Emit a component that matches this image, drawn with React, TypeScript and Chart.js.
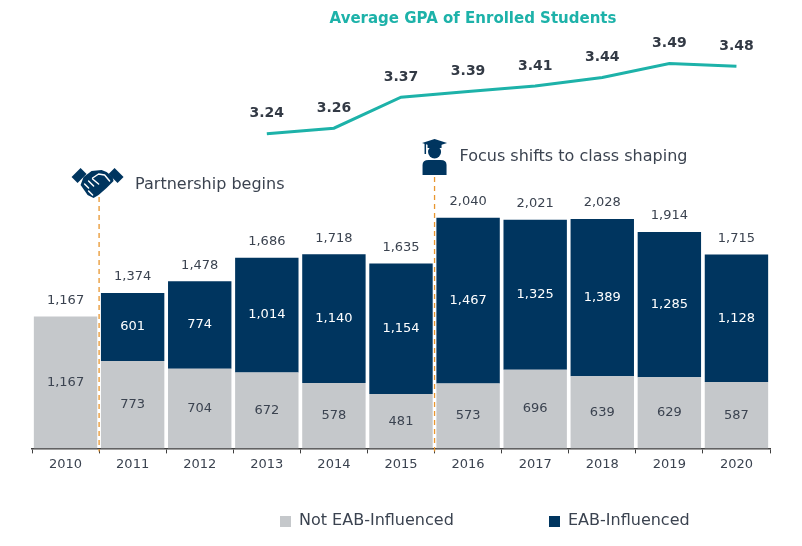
import { useEffect, useRef } from "react"
import { Chart, registerables } from "chart.js"

Chart.register(...registerables)

const years = ["2010", "2011", "2012", "2013", "2014", "2015", "2016", "2017", "2018", "2019", "2020"]
const notInfluenced = [1167, 773, 704, 672, 578, 481, 573, 696, 639, 629, 587]
const influenced = [null, 601, 774, 1014, 1140, 1154, 1467, 1325, 1389, 1285, 1128]
const gpa = [null, null, null, 3.24, 3.26, 3.37, 3.39, 3.41, 3.44, 3.49, 3.48]
const notes = [
  { boundary: 1, text: "Partnership begins", icon: "handshake" },
  { boundary: 6, text: "Focus shifts to class shaping", icon: "grad" },
]

const NAVY = "#00355f"
const GRAY = "#c5c8cb"
const TEAL = "#1db2a9"
const TEXT = "#3b4350"
const ORANGE = "#e8962e"
const FONT = "'DejaVu Sans', Verdana, sans-serif"

const fmt = (v: number) => v.toLocaleString("en-US")

function poly(ctx: CanvasRenderingContext2D, pts: number[][]) {
  ctx.beginPath()
  pts.forEach(([px, py], i) => (i === 0 ? ctx.moveTo(px, py) : ctx.lineTo(px, py)))
  ctx.closePath()
  ctx.fill()
}

function drawHandshake(ctx: CanvasRenderingContext2D, cx: number, y: number) {
  // rough handshake glyph centred on cx, top at y (~50x30)
  ctx.save()
  ctx.translate(cx, y)
  ctx.fillStyle = NAVY
  ctx.lineJoin = "round"
  // cuffs
  poly(ctx, [[-26, 9], [-17, 0], [-11, 6], [-20, 15]])
  poly(ctx, [[26, 9], [17, 0], [11, 6], [20, 15]])
  // hands
  poly(ctx, [
    [-14, 9], [-6, 3], [4, 2], [9, 4], [15, 9],
    [16, 13], [9, 20], [1, 27], [-4, 30], [-10, 27], [-17, 17],
  ])
  ctx.strokeStyle = "#ffffff"
  ctx.lineWidth = 1.5
  ctx.lineCap = "round"
  ctx.beginPath()
  // thumb / wrist gap
  ctx.moveTo(-5, 10)
  ctx.lineTo(1, 6)
  ctx.lineTo(7, 7)
  ctx.lineTo(12, 13)
  // finger gaps
  ctx.moveTo(-13, 16)
  ctx.lineTo(-9, 20)
  ctx.moveTo(-9, 13)
  ctx.lineTo(-4, 18)
  ctx.moveTo(-5, 11)
  ctx.lineTo(1, 16)
  ctx.moveTo(-9, 23)
  ctx.lineTo(-5, 27)
  ctx.stroke()
  ctx.restore()
}

function drawGrad(ctx: CanvasRenderingContext2D, cx: number, y: number) {
  ctx.save()
  ctx.fillStyle = NAVY
  // mortarboard
  poly(ctx, [[cx - 12.5, y + 4], [cx, y], [cx + 12.5, y + 4], [cx, y + 8]])
  ctx.fillRect(cx - 7, y + 5, 14, 4)
  // tassel
  ctx.fillRect(cx - 10, y + 4, 1.5, 11)
  // head
  ctx.beginPath()
  ctx.arc(cx, y + 13, 6.5, 0, Math.PI * 2)
  ctx.fill()
  // body
  ctx.beginPath()
  ctx.moveTo(cx - 12, y + 36)
  ctx.lineTo(cx - 12, y + 26)
  ctx.quadraticCurveTo(cx - 12, y + 21, cx - 6, y + 21)
  ctx.lineTo(cx + 6, y + 21)
  ctx.quadraticCurveTo(cx + 12, y + 21, cx + 12, y + 26)
  ctx.lineTo(cx + 12, y + 36)
  ctx.closePath()
  ctx.fill()
  ctx.restore()
}

const extras = {
  id: "extras",
  afterDatasetsDraw(chart: any) {
    const ctx: CanvasRenderingContext2D = chart.ctx
    const x = chart.scales.x
    const area = chart.chartArea
    const half = (x.getPixelForValue(1) - x.getPixelForValue(0)) / 2

    ctx.save()
    ctx.textAlign = "center"
    ctx.textBaseline = "middle"

    // segment labels
    const grayMeta = chart.getDatasetMeta(1)
    const navyMeta = chart.getDatasetMeta(2)
    ctx.font = `13px ${FONT}`
    grayMeta.data.forEach((bar: any, i: number) => {
      ctx.fillStyle = TEXT
      ctx.fillText(fmt(notInfluenced[i]), bar.x, (bar.y + bar.base) / 2)
    })
    navyMeta.data.forEach((bar: any, i: number) => {
      const v = influenced[i]
      if (v == null) return
      ctx.fillStyle = "#ffffff"
      ctx.fillText(fmt(v), bar.x, (bar.y + bar.base) / 2)
    })
    // totals
    ctx.fillStyle = TEXT
    years.forEach((_, i) => {
      const total = notInfluenced[i] + (influenced[i] ?? 0)
      const top = chart.scales.y.getPixelForValue(total)
      ctx.fillText(fmt(total), x.getPixelForValue(i), top - 16)
    })

    // gpa labels
    const lineMeta = chart.getDatasetMeta(0)
    ctx.font = `bold 14px ${FONT}`
    ctx.fillStyle = "#333a45"
    lineMeta.data.forEach((pt: any, i: number) => {
      const v = gpa[i]
      if (v == null) return
      ctx.fillText(v.toFixed(2), pt.x, pt.y - 20)
    })

    // title
    ctx.font = `bold 15px ${FONT}`
    ctx.fillStyle = TEAL
    ctx.fillText("Average GPA of Enrolled Students", 473, 19)

    // annotations
    notes.forEach((n) => {
      const bx = x.getPixelForValue(n.boundary) - half
      const topY = n.icon === "handshake" ? 197 : 177
      ctx.save()
      ctx.strokeStyle = ORANGE
      ctx.lineWidth = 1.3
      ctx.setLineDash([5, 4])
      ctx.beginPath()
      ctx.moveTo(bx, topY)
      ctx.lineTo(bx, area.bottom + 3)
      ctx.stroke()
      ctx.restore()
      ctx.font = `16px ${FONT}`
      ctx.fillStyle = TEXT
      ctx.textAlign = "left"
      if (n.icon === "handshake") {
        drawHandshake(ctx, bx - 1.5, 168)
        ctx.fillText(n.text, bx + 36, 185)
      } else {
        drawGrad(ctx, bx, 139)
        ctx.fillText(n.text, bx + 25, 157)
      }
    })

    // legend
    ctx.font = `16px ${FONT}`
    ctx.textAlign = "left"
    const items = [
      { label: chart.data.datasets[1].label, color: GRAY, x: 280 },
      { label: chart.data.datasets[2].label, color: NAVY, x: 549 },
    ]
    items.forEach((it) => {
      ctx.fillStyle = it.color
      ctx.fillRect(it.x, 516, 11, 11)
      ctx.fillStyle = TEXT
      ctx.fillText(it.label, it.x + 19, 521)
    })
    ctx.restore()
  },
}

export default function App() {
  const canvasRef = useRef<HTMLCanvasElement>(null)

  useEffect(() => {
    if (!canvasRef.current) return
    const chart = new Chart(canvasRef.current, {
      type: "bar",
      data: {
        labels: years,
        datasets: [
          {
            type: "line",
            label: "Average GPA",
            data: gpa,
            yAxisID: "y2",
            borderColor: TEAL,
            borderWidth: 3,
            pointRadius: 0,
            tension: 0,
            spanGaps: false,
          } as any,
          {
            label: "Not EAB-Influenced",
            data: notInfluenced,
            backgroundColor: GRAY,
            stack: "s",
            barPercentage: 0.945,
            categoryPercentage: 1,
          },
          {
            label: "EAB-Influenced",
            data: influenced,
            backgroundColor: NAVY,
            stack: "s",
            barPercentage: 0.945,
            categoryPercentage: 1,
          },
        ],
      },
      options: {
        animation: false,
        responsive: true,
        maintainAspectRatio: false,
        layout: { padding: { top: 30, left: 32, right: 32, bottom: 71 } },
        scales: {
          x: {
            stacked: true,
            grid: {
              offset: true,
              drawOnChartArea: false,
              drawTicks: true,
              tickLength: 5,
              color: "#404040",
            },
            border: { color: "#404040", width: 1.5 },
            ticks: { color: TEXT, font: { family: FONT, size: 13 }, padding: 3 },
          },
          y: { stacked: true, display: false, min: 0, max: 3700 },
          y2: { display: false, min: 2.123, max: 3.6088 },
        },
        plugins: {
          legend: { display: false },
          tooltip: { enabled: false },
        },
      },
      plugins: [extras],
    })
    return () => chart.destroy()
  }, [])

  return (
    <div style={{ position: "fixed", left: 0, top: 0, width: 802, height: 546, background: "#fff" }}>
      <canvas ref={canvasRef}></canvas>
    </div>
  )
}
